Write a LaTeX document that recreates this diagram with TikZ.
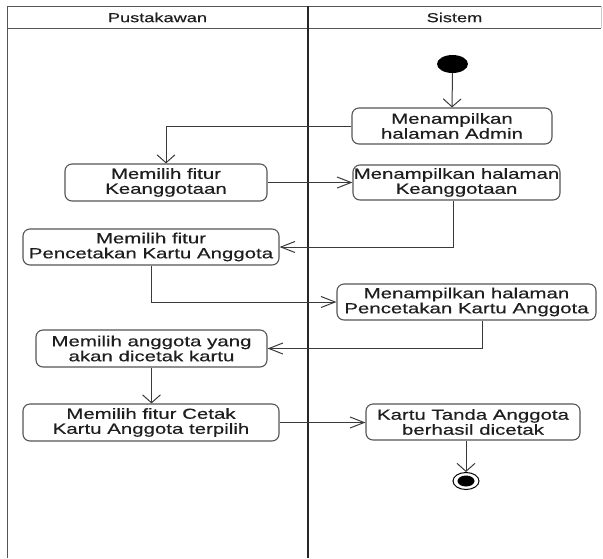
\documentclass[tikz,border=0pt]{standalone}
\usepackage{fontspec}
\setmainfont{Liberation Sans}
\newfontfamily\boxfont[FakeStretch=1.4,FakeBold=0.4]{Liberation Sans}
\usetikzlibrary{arrows.meta,shapes.geometric}
\definecolor{boxline}{HTML}{555555}
\definecolor{conline}{HTML}{3A3A3A}
\definecolor{txt}{HTML}{1E1E1E}
\tikzset{
  act/.style={draw=boxline, line width=1.1pt, rounded corners=7pt, fill=white,
    inner sep=0pt, align=center, text=txt,
    font=\boxfont\fontsize{14.6}{15}\selectfont},
  lanehead/.style={text=txt, font=\boxfont\fontsize{13}{14}\selectfont},
  flow/.style={draw=conline, line width=1pt},
  harr/.style={flow, -{Straight Barb[length=14pt,width=11pt,line width=1pt]}},
  varr/.style={flow, -{Straight Barb[length=8pt,width=18pt,line width=1pt]}},
}
\begin{document}
\begin{tikzpicture}[x=1pt,y=-1pt]
\useasboundingbox (0,0) rectangle (603,558);
% swimlanes
\draw[boxline, line width=1pt] (7,558) -- (7,6) -- (601,6);
\draw[boxline, line width=1pt] (7,28) -- (601,28);
\draw[black!20, line width=0.6pt] (601,6) -- (601,28);
\draw[black!85, line width=2.4pt] (308,6) -- (308,558);
\node[lanehead] (h1) at (157.5,17.5) {Pustakawan};
\node[lanehead] (h2) at (454.5,17.5) {Sistem};
% start / end
\node[ellipse, fill=black, minimum width=31pt, minimum height=18pt, inner sep=0pt] (start) at (452.5,64) {};
\node[ellipse, draw=black, line width=1pt, fill=white, minimum width=26pt, minimum height=17pt, inner sep=0pt] (end) at (466,481) {};
\node[ellipse, fill=black, minimum width=17pt, minimum height=11pt, inner sep=0pt] (endin) at (end.center) {};
% activities
\node[act, minimum width=200pt, minimum height=36pt] (A) at (452,126) {Menampilkan\\halaman Admin};
\node[act, minimum width=202pt, minimum height=37pt] (B) at (166,182.5) {Memilih fitur\\Keanggotaan};
\node[act, minimum width=207pt, minimum height=35pt] (C) at (456.5,182.5) {Menampilkan halaman\\Keanggotaan};
\node[act, minimum width=256pt, minimum height=36pt] (D) at (151,247) {Memilih fitur\\Pencetakan Kartu Anggota};
\node[act, minimum width=259pt, minimum height=36pt] (E) at (466.5,302) {Menampilkan halaman\\Pencetakan Kartu Anggota};
\node[act, minimum width=231pt, minimum height=37pt] (F) at (151.5,348.5) {Memilih anggota yang\\akan dicetak kartu};
\node[act, minimum width=256pt, minimum height=37pt] (G) at (151,422.5) {Memilih fitur Cetak\\Kartu Anggota terpilih};
\node[act, minimum width=214pt, minimum height=36pt] (H) at (473,422) {Kartu Tanda Anggota\\berhasil dicetak};
% flows
\draw[varr] (start.south) -- (A.north);
\draw[varr] (A.west) -| (B.north);
\draw[harr] (B.east) -- (C.west);
\draw[harr] ([xshift=-3.5pt]C.south) |- (D.east);
\draw[harr] (D.south) |- (E.west);
\draw[harr] ([xshift=15.5pt]E.south) |- (F.east);
\draw[varr] (F.south) -- (F.south |- G.north);
\draw[harr] (G.east) -- (G.east -| H.west);
\draw[varr] (end.north |- H.south) -- (end.north);
\end{tikzpicture}
\end{document}
